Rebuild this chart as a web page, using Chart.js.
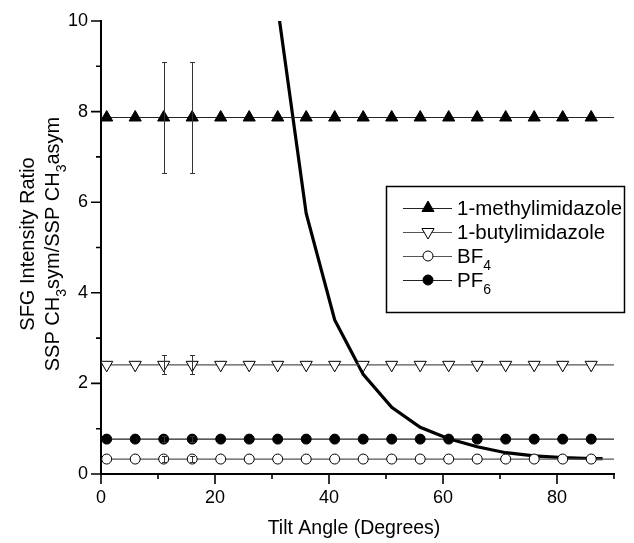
<!DOCTYPE html>
<html><head><meta charset="utf-8">
<script src="https://cdn.jsdelivr.net/npm/chart.js@4.4.1/dist/chart.umd.min.js"></script>
<style>html,body{margin:0;padding:0;background:#fff}</style>
</head><body>
<canvas id="c" width="634" height="543"></canvas>
<script>
// ---- data ----
const angles = [0,1,6,11,16,21,26,31,36,41,46,51,56,61,66,71,76,81,86,90];
const methylimidazole = [7.87,7.87,7.87,7.87,7.87,7.87,7.87,7.87,7.87,7.87,7.87,7.87,7.87,7.87,7.87,7.87,7.87,7.87,7.87,7.87];
const butylimidazole  = [2.41,2.41,2.41,2.41,2.41,2.41,2.41,2.41,2.41,2.41,2.41,2.41,2.41,2.41,2.41,2.41,2.41,2.41,2.41,2.41];
const bf4 = [0.33,0.33,0.33,0.33,0.33,0.33,0.33,0.33,0.33,0.33,0.33,0.33,0.33,0.33,0.33,0.33,0.33,0.33,0.33,0.33];
const pf6 = [0.77,0.77,0.77,0.77,0.77,0.77,0.77,0.77,0.77,0.77,0.77,0.77,0.77,0.77,0.77,0.77,0.77,0.77,0.77,0.77];
const curveAngles = [31,36,41,46,51,56,61,66,71,76,81,86,88];
const curveValues = [10.3,5.75,3.4,2.2,1.47,1.03,0.78,0.6,0.47,0.4,0.36,0.34,0.34];
const errAngles = [11,16];
const methylErr = [1.23,1.23];
const butylErr = [0.21,0.21];
const bf4Err = [0.07,0.07];
const pf6Err = [0.07,0.07];
const xMajorTicks = [0,20,40,60,80];
const xMinorTicks = [10,30,50,70,90];
const yMajorTicks = [0,2,4,6,8,10];
const yMinorTicks = [1,3,5,7,9];
const legendLabels = [["1-methylimidazole",""],["1-butylimidazole",""],["BF","4"],["PF","6"]];

const FONT = "'Liberation Sans', Arial, sans-serif";
Chart.defaults.font.family = FONT;
Chart.defaults.font.size = 18;
Chart.defaults.color = '#000';

function pts(vals){ return angles.map((a,i)=>({x:a,y:vals[i]})); }
const last = angles.length-1;
const hideEnds = (r)=> (ctx)=> (ctx.dataIndex===0||ctx.dataIndex===last)?0:r;

const styles = [
  {pointStyle:'triangle', radius:7, rotation:0, bg:'#000', border:'#000', line:'#222'},
  {pointStyle:'triangle', radius:7, rotation:180, bg:'#fff', border:'#000', line:'#555'},
  {pointStyle:'circle', radius:5, rotation:0, bg:'#fff', border:'#000', line:'#555'},
  {pointStyle:'circle', radius:5, rotation:0, bg:'#000', border:'#000', line:'#222'}
];
const seriesVals = [methylimidazole, butylimidazole, bf4, pf6];
const seriesErr = [methylErr, butylErr, bf4Err, pf6Err];

const datasets = seriesVals.map((v,k)=>({
  label: legendLabels[k].join(''),
  data: pts(v),
  showLine: true,
  borderColor: styles[k].line,
  borderWidth: 1.2,
  pointStyle: styles[k].pointStyle,
  pointRotation: styles[k].rotation,
  pointRadius: hideEnds(styles[k].radius),
  pointBackgroundColor: styles[k].bg,
  pointBorderColor: styles[k].border,
  pointBorderWidth: 1,
  order: k+1
}));
datasets.push({
  label:'curve',
  data: curveAngles.map((a,i)=>({x:a,y:curveValues[i]})),
  showLine:true, borderColor:'#000', borderWidth:3.2, pointRadius:0, tension:0,
  order: 10
});

function drawParts(ctx, parts, x, y, size, align){
  const sub = Math.round(size*0.68);
  let w = 0;
  parts.forEach(p=>{ ctx.font = (p[1]?sub:size)+'px '+FONT; w += ctx.measureText(p[0]).width; });
  let cx = align==='center' ? x - w/2 : x;
  ctx.textAlign='left'; ctx.textBaseline='alphabetic';
  parts.forEach(p=>{
    ctx.font = (p[1]?sub:size)+'px '+FONT;
    ctx.fillText(p[0], cx, y + (p[1]? size*0.35 : 0));
    cx += ctx.measureText(p[0]).width;
  });
}

const deco = {
  id:'deco',
  afterDatasetsDraw(chart){
    const ctx = chart.ctx, xs = chart.scales.x, ys = chart.scales.y;
    ctx.save();
    ctx.strokeStyle = '#333'; ctx.lineWidth = 1;
    seriesErr.forEach((errs,k)=>{
      errAngles.forEach((a,j)=>{
        const v = seriesVals[k][angles.indexOf(a)];
        const px = Math.round(xs.getPixelForValue(a))+0.5;
        const y1 = Math.round(ys.getPixelForValue(v+errs[j]))+0.5;
        const y2 = Math.round(ys.getPixelForValue(v-errs[j]))+0.5;
        ctx.beginPath();
        ctx.moveTo(px,y1); ctx.lineTo(px,y2);
        ctx.moveTo(px-2.5,y1); ctx.lineTo(px+2.5,y1);
        ctx.moveTo(px-2.5,y2); ctx.lineTo(px+2.5,y2);
        ctx.stroke();
      });
    });
    ctx.restore();
  },
  afterDraw(chart){
    const ctx = chart.ctx, xs = chart.scales.x, ys = chart.scales.y, ca = chart.chartArea;
    ctx.save();
    ctx.strokeStyle = '#000'; ctx.lineWidth = 1.6;
    ctx.beginPath();
    xMajorTicks.forEach(v=>{ const p=xs.getPixelForValue(v); ctx.moveTo(p,ca.bottom); ctx.lineTo(p,ca.bottom+10); });
    xMinorTicks.forEach(v=>{ const p=xs.getPixelForValue(v); ctx.moveTo(p,ca.bottom); ctx.lineTo(p,ca.bottom+5); });
    yMajorTicks.forEach(v=>{ const p=ys.getPixelForValue(v); ctx.moveTo(ca.left,p); ctx.lineTo(ca.left-10,p); });
    yMinorTicks.forEach(v=>{ const p=ys.getPixelForValue(v); ctx.moveTo(ca.left,p); ctx.lineTo(ca.left-5,p); });
    ctx.stroke();

    ctx.fillStyle = '#000';
    // x title
    drawParts(ctx, [["Tilt Angle (Degrees)",""]], 354, 534, 19.5, 'center');
    // y title
    ctx.save();
    ctx.translate(0, 244);
    ctx.rotate(-Math.PI/2);
    drawParts(ctx, [["SFG Intensity Ratio",""]], 0, 34, 20, 'center');
    drawParts(ctx, [["SSP CH",""],["3",1],["sym/SSP CH",""],["3",1],["asym",""]], 0, 59, 20, 'center');
    ctx.restore();

    // legend
    ctx.lineWidth = 1.5; ctx.strokeStyle = '#000';
    ctx.strokeRect(386.5, 186.5, 238, 126);
    const rows = [208, 232, 256, 280];
    rows.forEach((ry,k)=>{
      ctx.strokeStyle = styles[k].line; ctx.lineWidth = 1.2;
      ctx.beginPath(); ctx.moveTo(403, ry+0.5); ctx.lineTo(452, ry+0.5); ctx.stroke();
      ctx.fillStyle = styles[k].bg; ctx.strokeStyle = styles[k].border; ctx.lineWidth = 1;
      Chart.helpers.drawPoint(ctx, {pointStyle:styles[k].pointStyle, radius:styles[k].radius, rotation:styles[k].rotation, borderWidth:1}, 428, ry);
      ctx.fillStyle = '#000';
      drawParts(ctx, [[legendLabels[k][0],""],[legendLabels[k][1],1]], 457, ry+7, 20.5, 'left');
    });
    ctx.restore();
  }
};

new Chart(document.getElementById('c'), {
  type: 'scatter',
  data: { datasets },
  options: {
    responsive: false,
    animation: false,
    events: [],
    layout: { padding: { left: 0, top: 21, right: 20, bottom: 0 } },
    plugins: { legend: { display: false }, tooltip: { enabled: false } },
    scales: {
      x: {
        type: 'linear', min: 0, max: 90,
        ticks: { stepSize: 20, includeBounds: false, autoSkip: false, maxRotation: 0, padding: 3,
                 font: { size: 18 }, color: '#000',
                 callback: (v)=> xMajorTicks.includes(v) ? String(v) : '' },
        grid: { display: false, drawTicks: true, tickLength: 10 },
        border: { display: true, color: '#000', width: 2 },
        afterFit(s){ s.height = 69; }
      },
      y: {
        type: 'linear', min: 0, max: 10,
        ticks: { stepSize: 2, autoSkip: false, padding: 3, font: { size: 18 }, color: '#000',
                 callback: (v)=> yMajorTicks.includes(v) ? String(v) : '' },
        grid: { display: false, drawTicks: true, tickLength: 10 },
        border: { display: true, color: '#000', width: 2 },
        afterFit(s){ s.width = 101; }
      }
    }
  },
  plugins: [deco]
});
</script>
</body></html>
